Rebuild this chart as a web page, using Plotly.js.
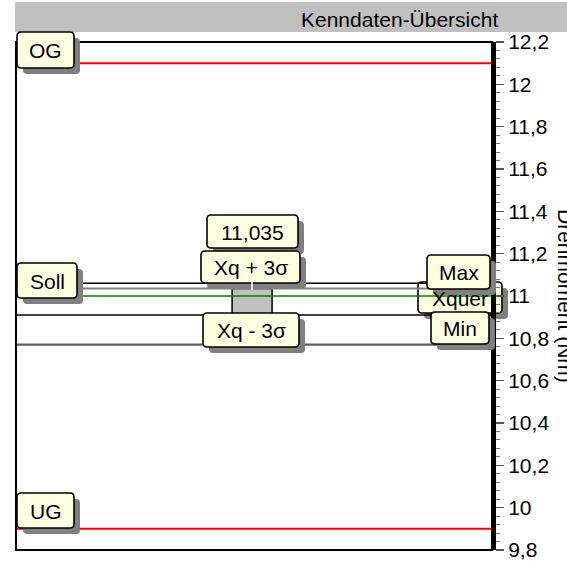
<!DOCTYPE html>
<html>
<head>
<meta charset="utf-8">
<script src="https://cdn.plot.ly/plotly-3.0.1.min.js"></script>
<style>html,body{margin:0;padding:0;background:#fff;}#chart{width:567px;height:561px;}</style>
</head>
<body>
<div id="chart"></div>
<script>
// ---- data ----
const chartTitle = 'Kenndaten-Übersicht';
const axisTitle = 'Drehmoment (Nm)';
const limitNames = ['OG', 'UG'];
const limitValues = [12.1, 9.9];
const sollValue = 11.0;
const maxValue = 11.06;
const minValue = 10.91;
const xqPlus3s = 11.035;
const xqMinus3s = 10.77;
const tickValues = [9.8, 10, 10.2, 10.4, 10.6, 10.8, 11, 11.2, 11.4, 11.6, 11.8, 12, 12.2];
const tickLabels = ['9,8', '10', '10,2', '10,4', '10,6', '10,8', '11', '11,2', '11,4', '11,6', '11,8', '12', '12,2'];

// ---- layout helpers (pixel -> paper) ----
const W = 567, H = 561, ML = 16, MR = 75, MT = 42, MB = 11;
const PW = W - ML - MR, PH = H - MT - MB;
const px = x => (x - ML) / PW;
const py = y => (H - MB - y) / PH;
function rrect(x0, y0, x1, y1, r) {
  const P = (x, y) => px(x).toFixed(5) + ',' + py(y).toFixed(5);
  return 'M' + P(x0 + r, y0) + ' L' + P(x1 - r, y0) + ' Q' + P(x1, y0) + ' ' + P(x1, y0 + r) +
    ' L' + P(x1, y1 - r) + ' Q' + P(x1, y1) + ' ' + P(x1 - r, y1) +
    ' L' + P(x0 + r, y1) + ' Q' + P(x0, y1) + ' ' + P(x0, y1 - r) +
    ' L' + P(x0, y0 + r) + ' Q' + P(x0, y0) + ' ' + P(x0 + r, y0) + ' Z';
}
const FONT = 'Liberation Sans, Arial, sans-serif';
const FS = 21;
const shapes = [];
const annotations = [];
function label(text, x0, y0, x1, y1, layer) {
  shapes.push({type: 'path', xref: 'paper', yref: 'paper', layer: layer,
    path: rrect(x0 + 6, y0 + 6, x1 + 6, y1 + 6, 4), fillcolor: '#808080', line: {width: 0}});
  shapes.push({type: 'path', xref: 'paper', yref: 'paper', layer: layer,
    path: rrect(x0, y0, x1, y1, 4), fillcolor: '#FFFFE1', line: {color: '#000', width: 1.6}});
  annotations.push({xref: 'paper', yref: 'paper', x: px((x0 + x1) / 2), y: py((y0 + y1) / 2 + 0.5),
    xanchor: 'center', yanchor: 'middle', showarrow: false, text: text,
    font: {family: FONT, size: FS, color: '#000'}});
}

// title band
shapes.push({type: 'rect', xref: 'paper', yref: 'paper', layer: 'below',
  x0: px(15), x1: px(567), y0: py(32), y1: py(2), fillcolor: '#C0C0C0', line: {width: 0}});
annotations.push({xref: 'paper', yref: 'paper', x: px(399), y: py(19), xanchor: 'center', yanchor: 'middle',
  showarrow: false, text: chartTitle, font: {family: FONT, size: FS, color: '#000'}});

// Xquer label sits beneath the lines
label('Xquer', 418, 282, 502, 313, 'below');

// frame
shapes.push({type: 'rect', xref: 'paper', yref: 'paper', layer: 'above',
  x0: 0, x1: 1, y0: 0, y1: 1, fillcolor: 'rgba(0,0,0,0)', line: {color: '#000', width: 2}});

label(limitNames[0], 17, 32, 74, 68, 'above');
label('Soll', 17, 263, 77, 298, 'above');
label(limitNames[1], 17, 493, 74, 528, 'above');
label(String(xqPlus3s).replace('.', ','), 207, 215, 298, 248, 'above');
label('Xq + 3σ', 201, 251, 300, 283, 'above');
label('Xq - 3σ', 203, 313, 299, 347, 'above');
label('Max', 427, 255, 490, 289, 'above');
label('Min', 431, 312, 489, 344, 'above');
shapes.push({type: 'line', xref: 'paper', yref: 'paper', layer: 'above',
  x0: px(252), x1: px(252), y0: py(266), y1: py(290), line: {color: '#fff', width: 1.5}});

function hline(v, color, width, name) {
  return {type: 'scatter', mode: 'lines', x: [0, 1], y: [v, v], name: name,
    line: {color: color, width: width}, hoverinfo: 'skip', showlegend: false, cliponaxis: false};
}

const traces = [
  {type: 'bar', x: [0.496], y: [xqPlus3s - minValue], base: [minValue], width: [0.084],
   marker: {color: '#C0C0C0', line: {color: '#000', width: 1.5}}, hoverinfo: 'skip', showlegend: false},
  hline(limitValues[0], '#FF0000', 2, 'OG'),
  hline(limitValues[1], '#FF0000', 2, 'UG'),
  hline(maxValue, '#000000', 1.6, 'Max'),
  hline(xqPlus3s, '#808080', 2, 'Xq + 3σ'),
  hline(minValue, '#000000', 1.6, 'Min'),
  hline(xqMinus3s, '#606060', 2.2, 'Xq - 3σ'),
  hline(sollValue, '#008000', 1.6, 'Soll')
];

annotations.push({xref: 'paper', yref: 'paper', x: px(566), y: 0.5, xanchor: 'center', yanchor: 'middle',
  textangle: 90, showarrow: false, text: axisTitle, font: {family: FONT, size: FS, color: '#000'}});

const layout = {
  width: W, height: H,
  margin: {l: ML, r: MR, t: MT, b: MB, pad: 0},
  paper_bgcolor: '#fff', plot_bgcolor: 'rgba(0,0,0,0)',
  separators: ',.',
  showlegend: false,
  bargap: 0,
  xaxis: {range: [0, 1], visible: false, fixedrange: true},
  yaxis: {range: [9.8, 12.2], side: 'right', showgrid: false, zeroline: false,
    showline: true, linecolor: '#000', linewidth: 4,
    tickmode: 'array', tickvals: tickValues, ticktext: tickLabels,
    ticks: 'outside', ticklen: 8, tickwidth: 1.2, tickcolor: '#555',
    ticklabelstandoff: 0, ticklabeloverflow: 'allow',
    minor: {dtick: 0.04, ticks: 'outside', ticklen: 4, tickwidth: 1, tickcolor: '#777'},
    tickfont: {family: FONT, size: FS, color: '#000'}, fixedrange: true},
  shapes: shapes,
  annotations: annotations
};

Plotly.newPlot('chart', traces, layout, {displayModeBar: false, staticPlot: true});
</script>
</body>
</html>
